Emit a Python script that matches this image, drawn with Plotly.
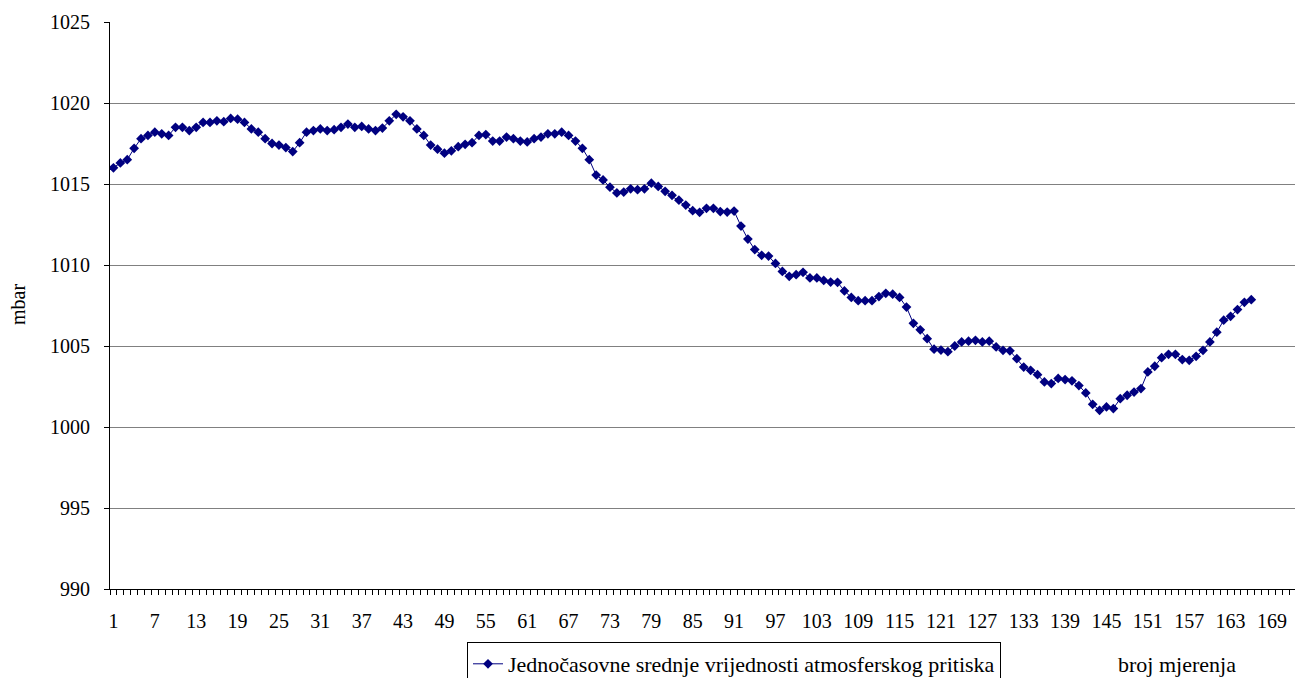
import plotly.graph_objects as go

# Measurement number (categories) and hourly mean atmospheric pressure (mbar)
measurement = list(range(1, 167))
pressure = [
    1016.0, 1016.3, 1016.5, 1017.2, 1017.8, 1018.0, 1018.2, 1018.1, 1018.0, 1018.5,
    1018.5, 1018.3, 1018.5, 1018.8, 1018.8, 1018.9, 1018.85, 1019.05, 1019.0, 1018.8,
    1018.4, 1018.2, 1017.8, 1017.5, 1017.4, 1017.25, 1017.0, 1017.55, 1018.2, 1018.3,
    1018.4, 1018.3, 1018.35, 1018.5, 1018.7, 1018.5, 1018.55, 1018.4, 1018.3, 1018.45,
    1018.9, 1019.3, 1019.15, 1018.9, 1018.4, 1018.0, 1017.4, 1017.15, 1016.9, 1017.05,
    1017.3, 1017.45, 1017.55, 1018.0, 1018.05, 1017.65, 1017.65, 1017.9, 1017.8, 1017.65,
    1017.6, 1017.8, 1017.9, 1018.1, 1018.1, 1018.2, 1018.0, 1017.65, 1017.2, 1016.5,
    1015.55, 1015.25, 1014.8, 1014.45, 1014.5, 1014.7, 1014.65, 1014.7, 1015.05, 1014.85,
    1014.55, 1014.3, 1014.0, 1013.7, 1013.35, 1013.25, 1013.5, 1013.5, 1013.3, 1013.27,
    1013.33, 1012.4, 1011.6, 1010.95, 1010.6, 1010.55, 1010.1, 1009.6, 1009.3, 1009.4,
    1009.55, 1009.2, 1009.2, 1009.05, 1008.95, 1008.93, 1008.4, 1008.0, 1007.8, 1007.8,
    1007.8, 1008.05, 1008.25, 1008.2, 1008.0, 1007.4, 1006.4, 1006.0, 1005.45, 1004.8,
    1004.75, 1004.65, 1005.0, 1005.25, 1005.3, 1005.35, 1005.25, 1005.3, 1004.94, 1004.73,
    1004.7, 1004.22, 1003.7, 1003.5, 1003.23, 1002.78, 1002.68, 1003.0, 1002.93, 1002.85,
    1002.56, 1002.1, 1001.4, 1001.03, 1001.24, 1001.14, 1001.75, 1001.96, 1002.16, 1002.37,
    1003.4, 1003.75, 1004.28, 1004.49, 1004.49, 1004.16, 1004.12, 1004.36, 1004.73, 1005.25,
    1005.85, 1006.59, 1006.83, 1007.25, 1007.7, 1007.86,
]
x_tick_labels = [str(v) for v in range(1, 170, 6)]
y_ticks = [990, 995, 1000, 1005, 1010, 1015, 1020, 1025]

series_name = "Jednočasovne srednje vrijednosti atmosferskog pritiska"
x_title = "broj mjerenja"
y_title = "mbar"
n_categories = 173

FONT = "Liberation Serif"
NAVY = "#000080"
# the page body adds an 8px offset, so the figure is 8px smaller than the window
OFF = 8
W, H = 1303 - OFF, 678 - OFF
PL, PT, PR, PB = 110, 22, 1303, 589  # plot area in screen pixels
PW, PH = PR - PL, PB - PT

fig = go.Figure()
fig.add_trace(go.Scatter(
    x=measurement, y=pressure, mode="lines+markers", name=series_name,
    line=dict(color=NAVY, width=1),
    marker=dict(symbol="diamond", size=7.5, color=NAVY),
))

fig.update_layout(
    width=W, height=H,
    margin=dict(l=PL - OFF, r=0, t=PT - OFF, b=H - (PB - OFF), autoexpand=False),
    paper_bgcolor="white", plot_bgcolor="white",
    font=dict(family=FONT, size=20, color="black"),
    showlegend=True,
    legend=dict(
        xref="container", yref="container",
        x=(467 - OFF) / W, xanchor="left",
        y=1 - (642 - OFF) / H, yanchor="top",
        bordercolor="black", borderwidth=1, bgcolor="white",
        font=dict(family=FONT, size=22),
    ),
    xaxis=dict(
        range=[0.5, n_categories + 0.5],
        tickmode="array",
        tickvals=[int(t) for t in x_tick_labels],
        ticktext=x_tick_labels,
        ticks="", showgrid=False, zeroline=False,
        showline=True, linecolor="black", linewidth=1,
        minor=dict(tick0=0.5, dtick=1, ticks="outside", ticklen=5,
                   tickcolor="black", showgrid=False),
        tickfont=dict(family=FONT, size=20),
        ticklabelstandoff=14,
        automargin=False,
    ),
    yaxis=dict(
        range=[990, 1025],
        tickmode="array", tickvals=y_ticks,
        ticks="outside", ticklen=5, tickcolor="black",
        showgrid=True, gridcolor="#808080", gridwidth=1,
        zeroline=False,
        showline=True, linecolor="black", linewidth=1,
        tickfont=dict(family=FONT, size=20),
        ticklabelstandoff=10,
        automargin=False,
    ),
    annotations=[
        dict(text=x_title, xref="paper", yref="paper",
             x=(1177 - PL) / PW, y=(PB - 664) / PH,
             xanchor="center", yanchor="middle", showarrow=False,
             font=dict(family=FONT, size=22)),
        dict(text=y_title, xref="paper", yref="paper",
             x=(18 - PL) / PW, y=(PB - 305) / PH,
             xanchor="center", yanchor="middle", showarrow=False,
             textangle=-90, font=dict(family=FONT, size=20)),
    ],
)

fig.write_html("out.html")
